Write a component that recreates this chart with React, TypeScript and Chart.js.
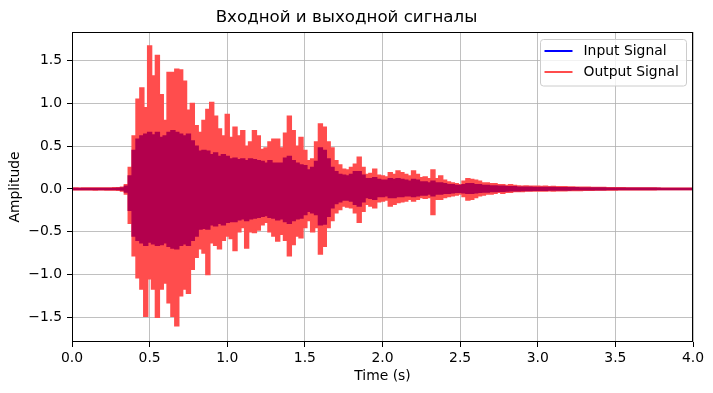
import React, { useEffect, useRef } from "react";
import { Chart, registerables } from "chart.js";

Chart.register(...registerables);

// ---------- text ----------
const TITLE = "Входной и выходной сигналы";
const X_LABEL = "Time (s)";
const Y_LABEL = "Amplitude";
const SERIES_NAMES = ["Input Signal", "Output Signal"];

// ---------- axes ----------
const X_MIN = 0;
const X_MAX = 4;
const Y_MIN = -1.79;
const Y_MAX = 1.835;
const X_TICKS = [0, 0.5, 1, 1.5, 2, 2.5, 3, 3.5, 4];
const Y_TICKS = [-1.5, -1, -0.5, 0, 0.5, 1, 1.5];

// ---------- data: signal envelopes (max / min per 0.025 s window) ----------
const SAMPLE_STEP = 0.025;

const OUT_HI = [
  0.008, 0.010, 0.009, 0.011, 0.010, 0.012, 0.010, 0.011, 0.012, 0.010,
  0.012, 0.013, 0.015, 0.020, 0.050, 0.25, 0.62, 1.05, 1.18, 0.95,
  1.67, 1.32, 1.56, 1.10, 0.80, 1.36, 1.36, 1.40, 1.39, 1.26,
  0.92, 1.00, 0.74, 0.66, 0.80, 0.93, 1.01, 0.85, 0.70, 0.62,
  0.87, 0.60, 0.72, 0.62, 0.68, 0.50, 0.55, 0.68, 0.62, 0.46,
  0.48, 0.55, 0.58, 0.58, 0.48, 0.65, 0.85, 0.68, 0.50, 0.60,
  0.45, 0.33, 0.35, 0.55, 0.76, 0.72, 0.55, 0.48, 0.33, 0.28,
  0.23, 0.22, 0.25, 0.29, 0.37, 0.25, 0.17, 0.18, 0.23, 0.16,
  0.15, 0.14, 0.19, 0.17, 0.21, 0.19, 0.17, 0.15, 0.21, 0.17,
  0.13, 0.14, 0.12, 0.22, 0.12, 0.15, 0.10, 0.08, 0.07, 0.06,
  0.05, 0.09, 0.12, 0.11, 0.10, 0.09, 0.07, 0.07, 0.06, 0.06,
  0.05, 0.05, 0.04, 0.05, 0.04, 0.035, 0.03, 0.035, 0.03, 0.03,
  0.030, 0.028, 0.030, 0.026, 0.028, 0.025, 0.024, 0.026, 0.022, 0.022,
  0.020, 0.021, 0.019, 0.020, 0.018, 0.017, 0.018, 0.016, 0.015, 0.015,
  0.014, 0.013, 0.013, 0.012, 0.012, 0.011, 0.011, 0.010, 0.010, 0.010,
  0.010, 0.009, 0.009, 0.009, 0.008, 0.008, 0.008, 0.008, 0.007, 0.007,
  0.007,
];

const OUT_LO = [
  -0.008, -0.010, -0.010, -0.009, -0.011, -0.010, -0.012, -0.010, -0.011, -0.012,
  -0.012, -0.014, -0.015, -0.025, -0.060, -0.40, -0.78, -1.04, -1.17, -1.49,
  -1.05, -1.17, -1.50, -1.17, -1.10, -1.33, -1.49, -1.60, -1.25, -1.17,
  -1.22, -0.94, -0.80, -0.70, -0.75, -1.00, -0.63, -0.66, -0.70, -0.60,
  -0.55, -0.58, -0.72, -0.50, -0.45, -0.69, -0.50, -0.51, -0.48, -0.42,
  -0.39, -0.50, -0.55, -0.61, -0.53, -0.60, -0.78, -0.65, -0.55, -0.57,
  -0.45, -0.37, -0.50, -0.45, -0.76, -0.67, -0.45, -0.37, -0.28, -0.24,
  -0.20, -0.21, -0.22, -0.28, -0.39, -0.26, -0.18, -0.20, -0.22, -0.15,
  -0.14, -0.13, -0.20, -0.18, -0.16, -0.15, -0.14, -0.12, -0.14, -0.12,
  -0.10, -0.11, -0.10, -0.30, -0.12, -0.12, -0.10, -0.09, -0.08, -0.07,
  -0.06, -0.09, -0.13, -0.12, -0.10, -0.08, -0.07, -0.06, -0.06, -0.05,
  -0.04, -0.05, -0.04, -0.04, -0.03, -0.03, -0.03, -0.025, -0.025, -0.025,
  -0.025, -0.024, -0.025, -0.022, -0.023, -0.021, -0.020, -0.021, -0.019, -0.018,
  -0.018, -0.017, -0.016, -0.016, -0.015, -0.014, -0.014, -0.013, -0.013, -0.012,
  -0.012, -0.011, -0.011, -0.011, -0.010, -0.010, -0.010, -0.009, -0.009, -0.009,
  -0.009, -0.008, -0.008, -0.008, -0.008, -0.007, -0.007, -0.007, -0.007, -0.007,
  -0.007,
];

const IN_HI = [
  0.006, 0.006, 0.006, 0.006, 0.006, 0.006, 0.006, 0.006, 0.006, 0.006,
  0.006, 0.006, 0.008, 0.012, 0.030, 0.15, 0.45, 0.58, 0.62, 0.64,
  0.66, 0.63, 0.66, 0.60, 0.62, 0.66, 0.68, 0.66, 0.64, 0.62,
  0.64, 0.56, 0.50, 0.44, 0.45, 0.44, 0.40, 0.42, 0.38, 0.40,
  0.38, 0.35, 0.36, 0.34, 0.35, 0.33, 0.35, 0.34, 0.33, 0.32,
  0.30, 0.33, 0.30, 0.30, 0.30, 0.36, 0.38, 0.33, 0.30, 0.28,
  0.27, 0.22, 0.25, 0.32, 0.48, 0.45, 0.35, 0.25, 0.20, 0.17,
  0.16, 0.15, 0.17, 0.20, 0.20, 0.16, 0.12, 0.12, 0.13, 0.11,
  0.10, 0.10, 0.12, 0.11, 0.12, 0.11, 0.10, 0.09, 0.11, 0.10,
  0.08, 0.08, 0.07, 0.09, 0.07, 0.07, 0.06, 0.05, 0.05, 0.04,
  0.04, 0.05, 0.06, 0.06, 0.05, 0.05, 0.04, 0.04, 0.035, 0.035,
  0.030, 0.030, 0.025, 0.025, 0.025, 0.020, 0.020, 0.020, 0.020, 0.018,
  0.018, 0.017, 0.017, 0.016, 0.016, 0.015, 0.015, 0.014, 0.014, 0.013,
  0.013, 0.012, 0.012, 0.011, 0.011, 0.010, 0.010, 0.010, 0.009, 0.009,
  0.009, 0.008, 0.008, 0.008, 0.008, 0.008, 0.007, 0.007, 0.007, 0.007,
  0.007, 0.007, 0.006, 0.006, 0.006, 0.006, 0.006, 0.006, 0.006, 0.006,
  0.006,
];

const IN_LO = [
  -0.006, -0.006, -0.006, -0.006, -0.006, -0.006, -0.006, -0.006, -0.006, -0.006,
  -0.006, -0.006, -0.008, -0.014, -0.035, -0.25, -0.55, -0.60, -0.63, -0.66,
  -0.62, -0.64, -0.66, -0.65, -0.63, -0.67, -0.69, -0.70, -0.66, -0.64,
  -0.66, -0.60, -0.55, -0.47, -0.46, -0.47, -0.42, -0.43, -0.40, -0.42,
  -0.39, -0.38, -0.38, -0.36, -0.35, -0.37, -0.35, -0.34, -0.33, -0.32,
  -0.31, -0.33, -0.34, -0.36, -0.35, -0.38, -0.40, -0.37, -0.35, -0.34,
  -0.30, -0.26, -0.28, -0.30, -0.42, -0.41, -0.32, -0.22, -0.17, -0.15,
  -0.13, -0.13, -0.14, -0.18, -0.20, -0.15, -0.10, -0.11, -0.12, -0.09,
  -0.09, -0.08, -0.10, -0.10, -0.09, -0.09, -0.08, -0.08, -0.09, -0.08,
  -0.07, -0.07, -0.06, -0.08, -0.06, -0.06, -0.05, -0.05, -0.045, -0.04,
  -0.04, -0.045, -0.05, -0.05, -0.045, -0.04, -0.035, -0.035, -0.03, -0.03,
  -0.028, -0.026, -0.024, -0.022, -0.022, -0.020, -0.018, -0.018, -0.017, -0.016,
  -0.016, -0.015, -0.015, -0.014, -0.014, -0.013, -0.013, -0.012, -0.012, -0.011,
  -0.011, -0.011, -0.010, -0.010, -0.010, -0.009, -0.009, -0.009, -0.008, -0.008,
  -0.008, -0.008, -0.008, -0.007, -0.007, -0.007, -0.007, -0.007, -0.007, -0.006,
  -0.006, -0.006, -0.006, -0.006, -0.006, -0.006, -0.006, -0.006, -0.006, -0.006,
  -0.006,
];

// ---------- colours ----------
const INPUT_COLOR = "#0000ff";
const OUTPUT_COLOR = "rgba(255, 0, 0, 0.7)";
// rendered colours: output (70% red) over white, and over the blue input
const OUTPUT_ON_WHITE = "rgb(255, 77, 77)";
const OUTPUT_ON_INPUT = "rgb(179, 0, 77)";
const LEGEND_COLORS = [INPUT_COLOR, OUTPUT_COLOR];

const FONT_FAMILY = "'DejaVu Sans', sans-serif";
const fmtNum = (v: number, d: number) => {
  const s = Math.abs(v).toFixed(d);
  return v < 0 ? "\u2212" + s : s;
};

const toPoints = (arr: number[]) =>
  arr.map((y, i) => ({ x: +(i * SAMPLE_STEP).toFixed(4), y }));

const framePlugin = {
  id: "frame",
  afterDatasetsDraw(chart: any) {
    const { ctx, chartArea } = chart;
    const { left, top, right, bottom } = chartArea;
    ctx.save();
    ctx.strokeStyle = "#000";
    ctx.lineWidth = 1;
    ctx.strokeRect(
      Math.round(left) + 0.5,
      Math.round(top) + 0.5,
      Math.round(right) - Math.round(left) - 1,
      Math.round(bottom) - Math.round(top) - 1
    );
    ctx.restore();
  },
};

const legendPlugin = {
  id: "innerLegend",
  afterDraw(chart: any) {
    const { ctx, chartArea } = chart;
    const fontSize = 13.9;
    ctx.save();
    ctx.font = `${fontSize}px ${FONT_FAMILY}`;
    const textW = Math.max(...SERIES_NAMES.map((n) => ctx.measureText(n).width));
    const handleStart = 4;
    const handleLen = 28;
    const textGap = 11;
    const padRight = 8;
    const rowH = 21;
    const firstRow = 11.5;
    const boxW = handleStart + handleLen + textGap + textW + padRight;
    const boxH = firstRow + rowH * (SERIES_NAMES.length - 1) + 14;
    const right = Math.round(chartArea.right) - 6.5;
    const top = Math.round(chartArea.top) + 7.5;
    const left = Math.round(right - boxW) + 0.5;
    const r = 3;
    ctx.beginPath();
    ctx.moveTo(left + r, top);
    ctx.lineTo(right - r, top);
    ctx.arcTo(right, top, right, top + r, r);
    ctx.lineTo(right, top + boxH - r);
    ctx.arcTo(right, top + boxH, right - r, top + boxH, r);
    ctx.lineTo(left + r, top + boxH);
    ctx.arcTo(left, top + boxH, left, top + boxH - r, r);
    ctx.lineTo(left, top + r);
    ctx.arcTo(left, top, left + r, top, r);
    ctx.closePath();
    ctx.fillStyle = "rgba(255,255,255,0.8)";
    ctx.fill();
    ctx.strokeStyle = "#cccccc";
    ctx.lineWidth = 1;
    ctx.stroke();
    SERIES_NAMES.forEach((name, i) => {
      const y = Math.round(top + firstRow + i * rowH);
      ctx.beginPath();
      ctx.strokeStyle = LEGEND_COLORS[i];
      ctx.lineWidth = 2;
      ctx.moveTo(left + handleStart, y);
      ctx.lineTo(left + handleStart + handleLen, y);
      ctx.stroke();
      ctx.fillStyle = "#000";
      ctx.textAlign = "left";
      ctx.textBaseline = "middle";
      ctx.fillText(name, left + handleStart + handleLen + textGap, y + 0.5);
    });
    ctx.restore();
  },
};

export default function App() {
  const ref = useRef<HTMLCanvasElement>(null);

  useEffect(() => {
    if (!ref.current) return;
    Chart.defaults.font.family = FONT_FAMILY;
    Chart.defaults.color = "#000";

    const lineCommon = {
      borderWidth: 1.5,
      pointRadius: 0,
      pointHoverRadius: 0,
      tension: 0,
      stepped: "middle" as const,
    };

    const chart = new Chart(ref.current, {
      type: "line",
      data: {
        datasets: [
          {
            ...lineCommon,
            label: SERIES_NAMES[0],
            data: toPoints(IN_HI),
            borderColor: OUTPUT_ON_INPUT,
            backgroundColor: OUTPUT_ON_INPUT,
            fill: false,
          },
          {
            ...lineCommon,
            label: SERIES_NAMES[0] + " (min)",
            data: toPoints(IN_LO),
            borderColor: OUTPUT_ON_INPUT,
            backgroundColor: OUTPUT_ON_INPUT,
            fill: 0,
          },
          {
            ...lineCommon,
            label: SERIES_NAMES[1],
            data: toPoints(OUT_HI),
            borderColor: OUTPUT_ON_WHITE,
            backgroundColor: OUTPUT_ON_WHITE,
            fill: false,
          },
          {
            ...lineCommon,
            label: SERIES_NAMES[1] + " (min)",
            data: toPoints(OUT_LO),
            borderColor: OUTPUT_ON_WHITE,
            backgroundColor: OUTPUT_ON_WHITE,
            fill: 2,
          },
        ],
      },
      options: {
        animation: false,
        responsive: false,
        devicePixelRatio: 1,
        events: [],
        layout: { padding: { left: 0, right: 20, top: 0, bottom: 0 } },
        plugins: {
          legend: { display: false },
          tooltip: { enabled: false },
          title: {
            display: true,
            text: TITLE,
            color: "#000",
            font: { size: 16.67, weight: "normal", family: FONT_FAMILY, lineHeight: 1.2 },
            padding: { top: 8, bottom: 4 },
          },
        },
        scales: {
          x: {
            type: "linear",
            min: X_MIN,
            max: X_MAX,
            afterBuildTicks: (s: any) => {
              s.ticks = X_TICKS.map((v) => ({ value: v }));
            },
            afterFit: (s: any) => {
              s.height = 51;
            },
            ticks: {
              autoSkip: false,
              maxRotation: 0,
              minRotation: 0,
              padding: 3,
              color: "#000",
              font: { size: 13.9 },
              callback: (v: any) => fmtNum(Number(v), 1),
            },
            grid: {
              color: "#b0b0b0",
              lineWidth: 0.8,
              drawTicks: true,
              tickLength: 5,
              tickColor: "#000",
              tickWidth: 1,
            },
            border: { display: false },
            title: {
              display: true,
              text: X_LABEL,
              color: "#000",
              font: { size: 13.9, lineHeight: 1.2 },
              padding: { top: 0, bottom: 8 },
            },
          },
          y: {
            type: "linear",
            min: Y_MIN,
            max: Y_MAX,
            afterBuildTicks: (s: any) => {
              s.ticks = Y_TICKS.map((v) => ({ value: v }));
            },
            afterFit: (s: any) => {
              s.width = 72;
            },
            ticks: {
              autoSkip: false,
              padding: 5,
              color: "#000",
              font: { size: 13.9 },
              callback: (v: any) => fmtNum(Number(v), 1),
            },
            grid: {
              color: "#b0b0b0",
              lineWidth: 0.8,
              drawTicks: true,
              tickLength: 5,
              tickColor: "#000",
              tickWidth: 1,
            },
            border: { display: false },
            title: {
              display: true,
              text: Y_LABEL,
              color: "#000",
              font: { size: 13.9, lineHeight: 1.2 },
              padding: { top: 7, bottom: 0 },
            },
          },
        },
      } as any,
      plugins: [framePlugin, legendPlugin],
    });

    return () => chart.destroy();
  }, []);

  return (
    <div
      style={{
        position: "fixed",
        left: 0,
        top: 0,
        width: 713,
        height: 393,
        background: "#fff",
      }}
    >
      <canvas
        ref={ref}
        width={713}
        height={393}
        style={{ display: "block", width: 713, height: 393 }}
      />
    </div>
  );
}
